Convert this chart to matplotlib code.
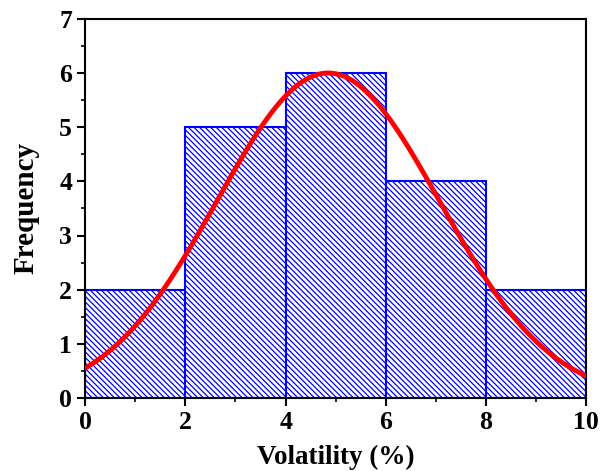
import numpy as np
import matplotlib
matplotlib.use('Agg')
import matplotlib.pyplot as plt
from matplotlib.ticker import MultipleLocator

# histogram bins and counts
bin_edges = [0, 2, 4, 6, 8, 10]
counts = [2, 5, 6, 4, 2]

# gaussian fit parameters
fit_amp = 6.0
fit_center = 4.85
fit_sigma = 2.22

plt.rcParams['font.family'] = ['Liberation Serif', 'DejaVu Serif']
plt.rcParams['font.weight'] = 'bold'
plt.rcParams['hatch.linewidth'] = 0.9
plt.rcParams['hatch.color'] = 'blue'

fig = plt.figure(figsize=(6, 4.71), dpi=100)
ax = fig.add_axes([0.142, 0.155, 0.835, 0.805])

left = bin_edges[:-1]
widths = np.diff(bin_edges)
ax.bar(left, counts, width=widths, align='edge', facecolor='white',
       edgecolor='blue', linewidth=1.5, hatch='\\' * 6, zorder=2)

x = np.linspace(bin_edges[0], bin_edges[-1], 400)
y = fit_amp * np.exp(-(x - fit_center) ** 2 / (2 * fit_sigma ** 2))
ax.plot(x, y, color='red', linewidth=3.5, zorder=3)

ax.set_xlim(0, 10)
ax.set_ylim(0, 7)
ax.xaxis.set_major_locator(MultipleLocator(2))
ax.xaxis.set_minor_locator(MultipleLocator(1))
ax.yaxis.set_major_locator(MultipleLocator(1))
ax.yaxis.set_minor_locator(MultipleLocator(0.5))

ax.tick_params(which='major', direction='out', length=6, width=1.5, labelsize=18.5)
ax.tick_params(which='minor', direction='out', length=3, width=1.2)
for s in ax.spines.values():
    s.set_linewidth(1.5)

ax.set_xlabel('Volatility (%)', fontsize=19.5, fontweight='bold', labelpad=8)
ax.set_ylabel('Frequency', fontsize=21, fontweight='bold', labelpad=14)

fig.savefig('out.png', dpi=100)
